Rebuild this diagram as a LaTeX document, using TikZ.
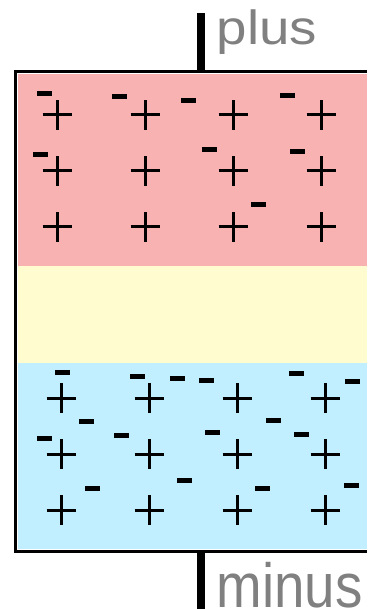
\documentclass[tikz,border=0pt]{standalone}
\usepackage{fontspec}
\setmainfont{Liberation Sans}
\definecolor{pinkfill}{RGB}{248,178,178}
\definecolor{yellowfill}{RGB}{255,253,208}
\definecolor{bluefill}{RGB}{194,239,255}
\definecolor{labelgray}{RGB}{128,128,128}
\tikzset{
  pos/.pic={\draw[line width=3pt] (-14.8,0)--(14.8,0) (0,-14.8)--(0,14.8);},
  neg/.style={rectangle, fill=black, draw=none, inner sep=0pt, minimum width=15pt, minimum height=5pt},
  wire/.style={fill=black, draw=none},
  frame/.style={line width=3pt, draw=black},
  lbl/.style={text=labelgray, inner sep=0pt, anchor=base west, font=\fontsize{48}{48}\selectfont}
}
\begin{document}
\begin{tikzpicture}[x=1pt,y=-1pt]
\useasboundingbox (0,0) rectangle (367,609);
% layers
\fill[pinkfill] (17.5,74.5) rectangle (367,266);
\fill[yellowfill] (17.5,266) rectangle (367,362.5);
\fill[bluefill] (17.5,362.5) rectangle (367,549);
% frame
\draw[frame] (367,72) -- (15,72) -- (15,551) -- (367,551);
% wires
\fill[wire] (196.5,13) rectangle (204.5,72);
\fill[wire] (196.5,551) rectangle (204.5,609);
% labels
\node[lbl] (plusl) at (216.4,45) {\scalebox{1.14}[1]{plus}};
\node[lbl, text depth=0pt] (minusl) at (216.4,607) {\scalebox{1.14}[1.3]{minus}};
% positive charges, upper layer
\foreach \x in {57.5,145.5,233.5,321.5}
  \foreach \y in {115,171,227}
    \pic at (\x,\y) {pos};
% positive charges, lower layer
\foreach \x in {61.3,149.3,237.3,325.3}
  \foreach \y in {398,454,510}
    \pic at (\x,\y) {pos};
% negative charges, upper layer
\node[neg] (a1) at (44.3,93.3) {};
\node[neg] (a2) at (119.3,96.3) {};
\node[neg] (a3) at (188.3,100.7) {};
\node[neg] (a4) at (287.3,95.3) {};
\node[neg] (a5) at (40.3,155) {};
\node[neg] (a6) at (209.3,149.3) {};
\node[neg] (a7) at (297.3,151.3) {};
\node[neg] (a8) at (258.3,204.3) {};
% negative charges, lower layer
\node[neg] (b1) at (62.3,372.3) {};
\node[neg] (b2) at (137.3,376.3) {};
\node[neg] (b3) at (177.3,378.3) {};
\node[neg] (b4) at (206.3,380.3) {};
\node[neg] (b5) at (296.3,373.3) {};
\node[neg] (b6) at (352.3,381.3) {};
\node[neg] (b7) at (86.3,421.3) {};
\node[neg] (b8) at (273.3,420.3) {};
\node[neg] (b9) at (44.3,438.3) {};
\node[neg] (b10) at (121.3,435.3) {};
\node[neg] (b11) at (212.3,432.3) {};
\node[neg] (b12) at (301.3,434.3) {};
\node[neg] (b13) at (92.3,488.3) {};
\node[neg] (b14) at (184.3,480.3) {};
\node[neg] (b15) at (262.3,488.3) {};
\node[neg] (b16) at (351.3,485.3) {};
\end{tikzpicture}
\end{document}
